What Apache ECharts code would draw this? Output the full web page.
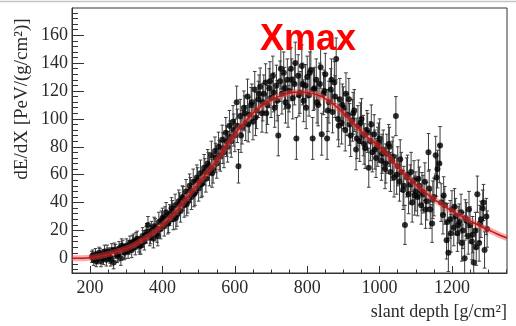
<!DOCTYPE html>
<html><head><meta charset="utf-8">
<script src="https://cdn.jsdelivr.net/npm/echarts@6/dist/echarts.min.js"></script>
<style>html,body{margin:0;padding:0;background:#fff}#c{width:516px;height:326px}</style>
</head><body><div id="c"></div>
<script>
const depth = [
205,210,215,220,225,230,235,240,245,250,255,260,265,270,275,280,285,290,295,300,
305,310,315,320,325,330,335,340,345,350,355,360,365,370,375,380,385,390,395,400,
405,410,415,420,425,430,435,440,445,450,455,460,465,470,475,480,485,490,495,500,
505,510,515,520,525,530,535,540,545,550,555,560,565,570,575,580,585,590,595,600,
605,610,615,620,625,630,635,640,645,650,655,660,665,670,675,680,685,690,695,700,
705,710,715,720,725,730,735,740,745,750,755,760,765,770,775,780,785,790,795,800,
805,810,815,820,825,830,835,840,845,850,855,860,865,870,875,880,885,890,895,900,
905,910,915,920,925,930,935,940,945,950,955,960,965,970,975,980,985,990,995,1000,
1005,1010,1015,1020,1025,1030,1035,1040,1045,1050,1055,1060,1065,1070,1075,1080,1085,1090,1095,1100,
1105,1110,1115,1120,1125,1130,1135,1140,1145,1150,1155,1160,1165,1170,1175,1180,1185,1190,1195,1200,
1205,1210,1215,1220,1225,1230,1235,1240,1245,1250,1255,1260,1265,1270,1275,1280,1285,1290,1295
];
const dEdX = [
1,-1,3,0,4,-2,2,5,-1,3,1,6,-3,5,2,7,0,8,4,9,
5,11,6,12,8,14,10,9,16,12,17,24,15,20,14,22,18,26,21,29,
23,33,25,31,36,28,38,31,41,34,44,38,48,41,52,44,55,47,58,50,
61,54,65,57,68,62,74,64,77,68,80,73,85,76,90,80,95,84,98,88,
112,66,102,94,108,97,116,103,110,98,121,106,114,123,104,118,126,110,122,115,
131,108,124,88,127,118,133,112,128,120,136,115,125,86,131,119,138,113,124,130,
117,135,86,122,128,110,125,89,118,132,86,112,121,105,126,143,100,114,97,108,
92,103,114,88,99,106,78,95,84,100,88,79,92,65,84,76,89,72,80,86,
70,78,64,75,82,62,70,58,102,66,55,62,49,24,58,46,53,40,56,48,
44,52,38,46,55,41,76,35,25,44,74,64,68,40,31,38,13,4,28,35,
22,30,18,26,33,20,0,27,16,24,12,-3,20,46,11,28,36,6,30
];
const dEdXErr = [
4,4,4,4,4,4,4,4.5,4.5,4.5,4.5,4.5,4.5,5,5,5,5,5,5,5,
5,5,5.5,5.5,5.5,5.5,5.5,6,6,6,6,6,6,6.5,6.5,6.5,6.5,7,7,7,
7,7,7.5,7.5,7.5,7.5,8,8,8,8,8,8.5,8.5,8.5,8.5,9,9,9,9,9,
9.5,9.5,9.5,9.5,10,10,10,10,10,10.5,10.5,10.5,10.5,11,11,11,11,11.5,11.5,11.5,
11.5,12,12,12,12,12.5,12.5,12.5,12.5,13,13,13,13,13.5,13.5,13.5,13.5,14,14,14,
14,14,14.5,14.5,14.5,14.5,15,15,15,15,15,15,15,15,15,15,15,15,15,15,
15,15,15,15,15,15,15,15,15,15,15,15,15,15,15,15,15,15,15,15,
15,15,15,15,15,15,14.5,14.5,14.5,14.5,14.5,14.5,14,14,14,14,14,14,14,14,
14,14,14,14,14,14,14,14,14,14,14,14,14,14,14,14,14,14,14,14,
13.5,13.5,13.5,13.5,13.5,13.5,13.5,13.5,13.5,13.5,13.5,13.5,13.5,13.5,13.5,13.5,13.5,13.5,13.5,13.5,
13,13,13,13,13,13,13,13,13,13,13,13,13,13,13,13,13,13,13
];
const depth2 = [
207,217,227,237,247,257,267,277,287,297,
307,317,327,337,347,357,367,377,387,397,
407,417,427,437,447,457,467,477,487,497,
507,517,527,537,547,557,567,577,587,597,
607,617,627,637,647,657,667,677,687,697,
707,717,727,737,747,757,767,777,787,797,
807,817,827,837,847,857,867,877,887,897,
907,917,927,937,947,957,967,977,987,997,
1007,1017,1027,1037,1047,1057,1067,1077,1087,1097,
1107,1117,1127,1137,1147,1157,1167,1177,1187,1197,
1207,1217,1227,1237,1247,1257,1267,1277,1287,1297
];
const dEdX2 = [
2,-2,3,0,5,-1,6,3,9,5,
8,11,13,9,14,19,17,23,16,27,
30,26,34,29,39,43,39,49,46,56,
53,62,66,61,72,74,79,84,87,92,
95,88,104,96,112,101,118,112,104,127,
119,113,136,122,109,128,140,117,125,108,
133,121,112,137,120,106,128,116,95,110,
118,96,104,86,97,82,90,96,78,83,
75,68,80,73,60,71,52,60,62,45,
57,48,35,50,42,58,81,45,26,18,
37,24,11,29,35,17,8,25,40,21
];
const dEdXErr2 = [
4,4,4,4.5,4.5,4.5,5,5,5,5,
5,5.5,5.5,6,6,6,6.5,6.5,7,7,
7,7.5,7.5,8,8,8.5,8.5,9,9,9,
9.5,9.5,10,10,10.5,10.5,11,11,11.5,11.5,
12,12,12.5,12.5,13,13,13.5,13.5,14,14,
14,14.5,14.5,15,15,15,15,15,15,15,
15,15,15,15,15,15,15,15,15,15,
15,15,15,14.5,14.5,14.5,14,14,14,14,
14,14,14,14,14,14,14,14,14,14,
13.5,13.5,13.5,13.5,13.5,13.5,13.5,13.5,13.5,13.5,
13,13,13,13,13,13,13,13,13,13
];
const fitDepth = [150,200,225,250,275,300,325,350,375,400,425,450,475,500,525,550,575,600,625,650,675,700,725,750,775,800,825,850,875,900,925,950,975,1000,1025,1050,1075,1100,1125,1150,1175,1200,1225,1250,1275,1300,1325,1352];
const fitValue = [0,0.5,1.5,3,5,7,10,14,18.5,24,30,37.5,46,54,62,70,80,89,97,104,109.5,113.5,116.5,118.5,119.3,119,117.5,114.5,110,104,97.5,91,85,80,73,65.5,58.5,53,47.5,42.5,38,34,30.5,27,23.5,20.5,17.5,14.6];
const xTickValues = [200,400,600,800,1000,1200];
const xMinorTicks = [150,200,250,300,350,400,450,500,550,600,650,700,750,800,850,900,950,1000,1050,1100,1150,1200,1250,1300,1350];
const yTickValues = [0,20,40,60,80,100,120,140,160];
const yMinorTicks = [-8,-4,0,4,8,12,16,20,24,28,32,36,40,44,48,52,56,60,64,68,72,76,80,84,88,92,96,100,104,108,112,116,120,124,128,132,136,140,144,148,152,156,160,164,168,172,176];

const chart = echarts.init(document.getElementById('c'), null, {renderer: 'canvas'});
const pts = depth.map((d, i) => [d, dEdX[i], dEdXErr[i]])
  .concat(depth2.map((d, i) => [d, dEdX2[i], dEdXErr2[i]]));
const fit = fitDepth.map((d, i) => [d, fitValue[i]]);
const serif = "'Liberation Serif', 'Times New Roman', serif";
const axisCol = '#333';
const X0 = 150, X1 = 1352, Y0 = -10.5, Y1 = 179.5;

const option = {
  animation: false,
  grid: {left: 72, right: 9, top: 8, bottom: 53, show: true, borderColor: axisCol, borderWidth: 1, backgroundColor: 'transparent'},
  xAxis: [
    {type: 'value', min: X0, max: X1, position: 'bottom',
     axisLine: {show: true, onZero: false, lineStyle: {color: axisCol, width: 1}},
     splitLine: {show: false},
     axisTick: {show: true, inside: true, length: 7, customValues: xTickValues, lineStyle: {color: axisCol}},
     axisLabel: {customValues: xTickValues, formatter: v => String(v), color: '#2a2a2a', fontFamily: serif, fontSize: 18, margin: 6}},
    {type: 'value', min: X0, max: X1, position: 'bottom',
     axisLine: {show: false, onZero: false}, splitLine: {show: false},
     axisTick: {show: true, inside: true, length: 3.5, customValues: xMinorTicks, lineStyle: {color: axisCol}},
     axisLabel: {show: false}}
  ],
  yAxis: [
    {type: 'value', min: Y0, max: Y1, position: 'left',
     axisLine: {show: true, onZero: false, lineStyle: {color: axisCol, width: 1}},
     splitLine: {show: false},
     axisTick: {show: true, inside: true, length: 12, customValues: yTickValues, lineStyle: {color: axisCol}},
     axisLabel: {customValues: yTickValues, formatter: v => String(v), color: '#2a2a2a', fontFamily: serif, fontSize: 18, margin: 4}},
    {type: 'value', min: Y0, max: Y1, position: 'left',
     axisLine: {show: false, onZero: false}, splitLine: {show: false},
     axisTick: {show: true, inside: true, length: 6, customValues: yMinorTicks, lineStyle: {color: axisCol}},
     axisLabel: {show: false}}
  ],
  graphic: [
    {type: 'line', shape: {x1: 0, y1: 1.5, x2: 516, y2: 1.5}, style: {stroke: '#c4c4c4', lineWidth: 1.5}},
    {type: 'text', x: 507, y: 312, style: {text: 'slant depth [g/cm²]', font: "18px 'Liberation Serif', serif", fill: '#2a2a2a', align: 'right', verticalAlign: 'middle'}},
    {type: 'text', x: 22, y: 99, rotation: Math.PI / 2, style: {text: 'dE/dX [PeV/(g/cm²)]', font: "19px 'Liberation Serif', serif", fill: '#2a2a2a', align: 'center', verticalAlign: 'middle'}},
    {type: 'text', x: 260, y: 40, z: 100, style: {text: 'Xmax', font: "bold 36px 'Liberation Sans', Arial, sans-serif", fill: '#ff0000', align: 'left', verticalAlign: 'middle'}}
  ],
  series: [
    {type: 'custom', xAxisIndex: 0, yAxisIndex: 0, clip: true, z: 1,
     data: pts, encode: {x: 0, y: 1},
     renderItem: function (params, api) {
       const x = api.value(0), y = api.value(1), e = api.value(2);
       const lo = api.coord([x, y - e]), hi = api.coord([x, y + e]);
       const c = 1.8, st = {stroke: '#3c3c3c', lineWidth: 1};
       return {type: 'group', children: [
         {type: 'line', shape: {x1: lo[0], y1: lo[1], x2: hi[0], y2: hi[1]}, style: st},
         {type: 'line', shape: {x1: lo[0] - c, y1: lo[1], x2: lo[0] + c, y2: lo[1]}, style: st},
         {type: 'line', shape: {x1: hi[0] - c, y1: hi[1], x2: hi[0] + c, y2: hi[1]}, style: st}
       ]};
     }},
    {type: 'scatter', xAxisIndex: 0, yAxisIndex: 0, data: pts, symbol: 'circle', symbolSize: 6, z: 2,
     itemStyle: {color: '#000'}, encode: {x: 0, y: 1}},
    {type: 'line', xAxisIndex: 0, yAxisIndex: 0, data: fit, smooth: 0.3, showSymbol: false, z: 3,
     lineStyle: {color: 'rgba(240,70,70,0.45)', width: 6}},
    {type: 'line', xAxisIndex: 0, yAxisIndex: 0, data: fit, smooth: 0.3, showSymbol: false, z: 4,
     lineStyle: {color: '#c01818', width: 1.5}}
  ]
};
chart.setOption(option);
</script>
</body></html>
